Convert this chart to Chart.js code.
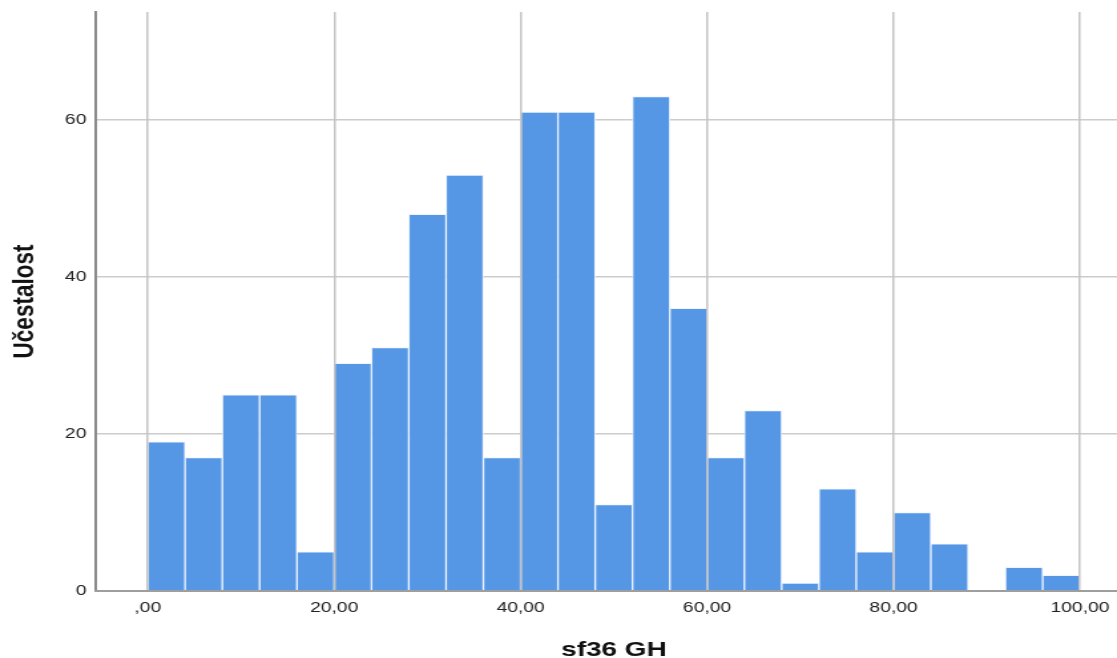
<!DOCTYPE html>
<html>
<head>
<meta charset="utf-8">
<title>sf36 GH</title>
<script src="https://cdn.jsdelivr.net/npm/chart.js@4.4.1/dist/chart.umd.min.js"></script>
<style>
  html, body { margin: 0; padding: 0; background: #fff; }
  #hist { display: block; }
</style>
</head>
<body>
<!-- drawn at 840 wide, shown at 1117 wide (SPSS output is stretched sideways) -->
<canvas id="hist" width="840" height="658" style="width:1117px;height:658px"></canvas>
<script>
// bin midpoints, bins are 4 points wide from 0 to 100
var binMid = [2, 6, 10, 14, 18, 22, 26, 30, 34, 38, 42, 46, 50,
              54, 58, 62, 66, 70, 74, 78, 82, 86, 90, 94, 98];
var counts = [19, 17, 25, 25, 5, 29, 31, 48, 53, 17, 61, 61, 11,
              63, 36, 17, 23, 1, 13, 5, 10, 6, 0, 3, 2];
var xTicks = [0, 20, 40, 60, 80, 100];
var yTicks = [0, 20, 40, 60];
var xTitle = 'sf36 GH';

var pts = [];
for (var i = 0; i < binMid.length; i++) {
    pts.push({x: binMid[i], y: counts[i]});
}

var fam = "'Liberation Sans', Arial, sans-serif";

// spss style number: 20,00  and ,00 for zero
function spssNum(v) {
    var s = v.toFixed(2).replace('.', ',');
    if (s.indexOf('0,') === 0) s = s.substring(1);
    return s;
}

// x title centred under the 0..100 range, not under the whole axis
var xTitlePlugin = {
    id: 'xTitle',
    afterDraw: function (c) {
        var g = c.ctx, sx = c.scales.x;
        g.save();
        g.font = 'bold 21px ' + fam;
        g.fillStyle = '#111';
        g.textAlign = 'center';
        g.textBaseline = 'middle';
        g.fillText(xTitle, sx.getPixelForValue((xTicks[0] + xTicks[xTicks.length - 1]) / 2), 650);
        g.restore();
    }
};

var ctx = document.getElementById('hist').getContext('2d');
var chart = new Chart(ctx, {
    type: 'bar',
    data: {
        datasets: [{
            data: pts,
            backgroundColor: '#5596e5',
            borderColor: 'rgba(235,243,255,0.9)',
            borderWidth: 1,
            barPercentage: 1,
            categoryPercentage: 1
        }]
    },
    plugins: [xTitlePlugin],
    options: {
        responsive: false,
        devicePixelRatio: 1,
        animation: false,
        layout: { padding: { top: 12, right: 0, left: 0, bottom: 0 } },
        plugins: {
            legend: { display: false },
            tooltip: { enabled: false }
        },
        scales: {
            x: {
                type: 'linear',
                offset: false,
                min: -5.58,
                max: 103.97,
                afterFit: function (s) {
                    s.height = 67;
                    s.paddingLeft = 0;
                    s.paddingRight = 0;
                },
                afterBuildTicks: function (s) {
                    s.ticks = xTicks.map(function (v) { return {value: v}; });
                },
                grid: {
                    offset: false,
                    color: '#c4c4c4',
                    lineWidth: 1.5,
                    drawTicks: false,
                    z: 1
                },
                // border after the grid layer, it needs the grid's position
                border: { display: true, color: '#9e9e9e', width: 2, z: 2 },
                ticks: {
                    padding: 8,
                    color: '#222',
                    font: { family: fam, size: 14.5 },
                    maxRotation: 0,
                    autoSkip: false,
                    callback: function (v) { return spssNum(v); }
                }
            },
            y: {
                min: 0,
                max: 73.76,
                afterFit: function (s) {
                    s.width = 72;
                    s.paddingTop = 0;
                    s.paddingBottom = 0;
                },
                afterBuildTicks: function (s) {
                    s.ticks = yTicks.map(function (v) { return {value: v}; });
                },
                grid: {
                    color: function (c) { return c.tick && c.tick.value === 0 ? 'rgba(0,0,0,0)' : '#cccccc'; },
                    lineWidth: 1.5,
                    drawTicks: false
                },
                border: { display: true, color: '#8a8a8a', width: 2 },
                ticks: {
                    padding: 7,
                    color: '#222',
                    font: { family: fam, size: 14.5 },
                    callback: function (v) { return v; }
                },
                title: {
                    display: true,
                    text: 'Učestalost',
                    color: '#111',
                    font: { family: fam, size: 22.5, weight: 'bold', lineHeight: 1 },
                    padding: { top: 8, bottom: 0 }
                }
            }
        }
    }
});
</script>
</body>
</html>
